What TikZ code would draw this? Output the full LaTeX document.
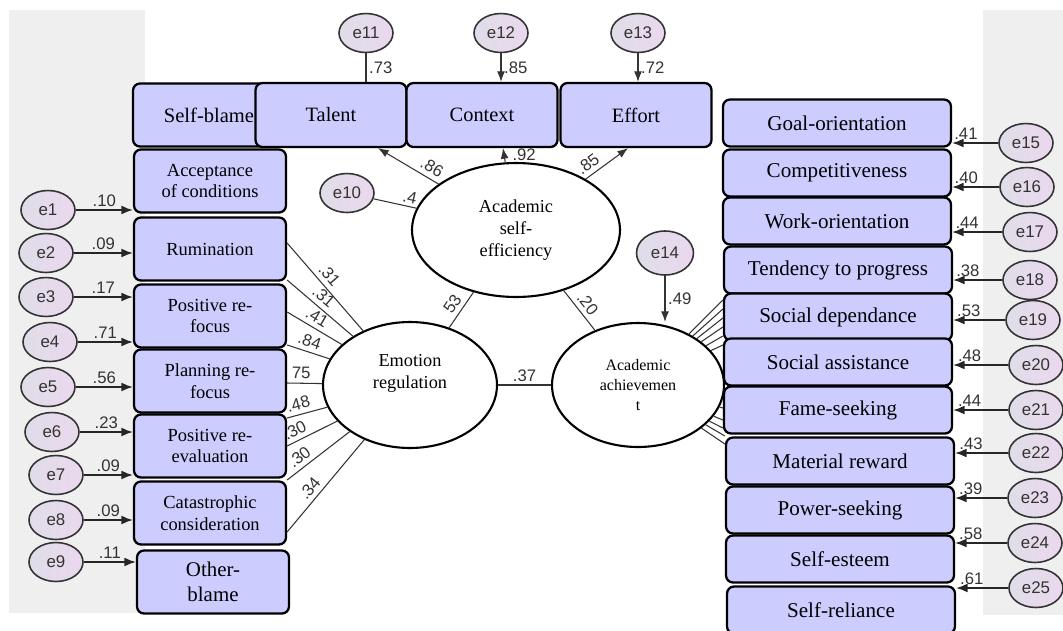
\documentclass[tikz,border=0pt]{standalone}
\usepackage{fontspec}
\setmainfont{Liberation Serif}
\newfontfamily\labelfont{Liberation Sans}
\usetikzlibrary{shapes.geometric, arrows.meta}
\definecolor{boxblue}{RGB}{204,204,255}
\definecolor{errleft}{RGB}{224,221,232}
\definecolor{errright}{RGB}{234,216,238}
\definecolor{panelgray}{RGB}{239,239,239}
\definecolor{linegray}{RGB}{51,51,51}

\begin{document}
\begin{tikzpicture}[x=0.02cm,y=-0.02cm]
	\tikzstyle{indicator} = [rectangle,rounded corners=4pt,draw=black,line width=1.3pt,fill=boxblue,inner sep=1pt,align=center]
	\tikzstyle{leftbox} = [indicator,minimum width=3.04cm,minimum height=1.26cm,font=\fontsize{10.5}{12.3}\selectfont]
	\tikzstyle{topbox} = [indicator,minimum width=3.02cm,minimum height=1.28cm,font=\fontsize{11.6}{13}\selectfont]
	\tikzstyle{rightbox} = [indicator,minimum width=4.56cm,minimum height=0.94cm,font=\fontsize{12}{13}\selectfont]
	\tikzstyle{latent} = [ellipse,draw=black,line width=1.2pt,fill=white,inner sep=0pt,align=center]
	\tikzstyle{error} = [ellipse,draw=linegray,line width=0.9pt,left color=errleft,right color=errright,minimum width=1.08cm,minimum height=0.78cm,inner sep=0pt,font=\labelfont\fontsize{9.6}{10}\selectfont,text=linegray]
	\tikzstyle{edge} = [-,draw=linegray,line width=0.6pt]
	\tikzstyle{arr} = [edge,-{Latex[length=6pt,width=4.5pt]}]
	\tikzstyle{errarr} = [-{Latex[length=6.5pt,width=5pt]},draw=black!85,line width=0.8pt]
	\tikzstyle{coef} = [font=\labelfont\fontsize{9.5}{10}\selectfont,text=linegray,inner sep=1.5pt]
	
	\useasboundingbox (0,0) rectangle (1063,630);
	\fill[panelgray] (9,10) rectangle (145,613);
	\fill[panelgray] (983,10) rectangle (1063,615);
	
	% emotion regulation indicators
	\node[leftbox,font=\fontsize{11.7}{13}\selectfont] (sb) at (209,115) {Self-blame};
	\node[leftbox] (acc) at (210,181) {Acceptance\\of conditions};
	\node[leftbox] (rum) at (210,249) {Rumination};
	\node[leftbox] (prf) at (210,316) {Positive re-\\focus};
	\node[leftbox] (prp) at (210,381) {Planning re-\\focus};
	\node[leftbox] (pre) at (210,446) {Positive re-\\evaluation};
	\node[leftbox] (cat) at (210,513) {Catastrophic\\consideration};
	\node[leftbox,font=\fontsize{11.9}{14}\selectfont] (ob) at (213,582) {Other-\\blame};
	
	% self-efficiency indicators
	\node[topbox] (talent) at (331,115) {Talent};
	\node[topbox] (context) at (482,115) {Context};
	\node[topbox] (effort) at (636,115) {Effort};
	
	% achievement indicators
	\node[rightbox] (goal) at (837,123) {Goal-orientation};
	\node[rightbox] (comp) at (837,173) {Competitiveness};
	\node[rightbox] (work) at (837,221) {Work-orientation};
	\node[rightbox] (tend) at (838,270) {Tendency to progress};
	\node[rightbox] (sdep) at (838,317) {Social dependance};
	\node[rightbox] (sass) at (838,362) {Social assistance};
	\node[rightbox] (fame) at (838,410) {Fame-seeking};
	\node[rightbox] (mat) at (840,461) {Material reward};
	\node[rightbox] (pow) at (840,510) {Power-seeking};
	\node[rightbox] (ses) at (840,559) {Self-esteem};
	\node[rightbox] (srel) at (841,610) {Self-reliance};
	
	% latent variables
	\node[latent,minimum width=3.48cm,minimum height=2.52cm,font=\fontsize{10.4}{12.5}\selectfont] (er) at (410,385) {Emotion\\regulation\\[3pt]};
	\node[latent,minimum width=4.16cm,minimum height=2.68cm,font=\fontsize{10.4}{12.5}\selectfont] (ase) at (516,230) {Academic\\self-\\efficiency};
	\node[latent,minimum width=3.44cm,minimum height=2.48cm,font=\fontsize{9.1}{11.3}\selectfont] (aa) at (638,385) {Academic\\achievemen\\t};
	
	% error terms
	\node[error] (e1) at (48,210) {e1};
	\node[error] (e2) at (46,253) {e2};
	\node[error] (e3) at (46,297) {e3};
	\node[error] (e4) at (50,342) {e4};
	\node[error] (e5) at (48,387) {e5};
	\node[error] (e6) at (52,432) {e6};
	\node[error] (e7) at (56,475) {e7};
	\node[error] (e8) at (56,520) {e8};
	\node[error] (e9) at (56,562) {e9};
	\node[error] (e10) at (347,193) {e10};
	\node[error] (e11) at (366,33) {e11};
	\node[error] (e12) at (501,33) {e12};
	\node[error] (e13) at (638,33) {e13};
	\node[error,minimum width=1.14cm,minimum height=0.88cm] (e14) at (665,253) {e14};
	\node[error] (e15) at (1026,143) {e15};
	\node[error] (e16) at (1027,187) {e16};
	\node[error] (e17) at (1030,232) {e17};
	\node[error] (e18) at (1030,280) {e18};
	\node[error] (e19) at (1033,320) {e19};
	\node[error] (e20) at (1036,365) {e20};
	\node[error] (e21) at (1036,410) {e21};
	\node[error] (e22) at (1036,453) {e22};
	\node[error] (e23) at (1035,498) {e23};
	\node[error] (e24) at (1035,543) {e24};
	\node[error] (e25) at (1036,588) {e25};
	
	\draw[errarr] (e1) -- node[coef,above]{.10} (e1 -| acc.west);
	\draw[errarr] (e2) -- node[coef,above]{.09} (e2 -| rum.west);
	\draw[errarr] (e3) -- node[coef,above]{.17} (e3 -| prf.west);
	\draw[errarr] (e4) -- node[coef,above]{.71} (e4 -| prf.west);
	\draw[errarr] (e5) -- node[coef,above]{.56} (e5 -| prp.west);
	\draw[errarr] (e6) -- node[coef,above]{.23} (e6 -| pre.west);
	\draw[errarr] (e7) -- node[coef,above]{.09} (e7 -| pre.west);
	\draw[errarr] (e8) -- node[coef,above]{.09} (e8 -| cat.west);
	\draw[errarr] (e9) -- node[coef,above]{.11} (e9 -| ob.west);
	
	\draw[edge] ([yshift=0.12cm]rum.east) -- node[coef,sloped,above=1pt,pos=.45]{.31} (er);
	\draw[edge] ([yshift=-0.62cm]rum.east) -- node[coef,sloped,above=1pt,pos=.45]{.31} (er);
	\draw[edge] ([yshift=0.08cm]prf.east) -- node[coef,sloped,above=1pt,pos=.45]{.41} (er);
	\draw[edge] ([yshift=-0.58cm]prf.east) -- node[coef,sloped,above=1pt,pos=.45]{.84} (er);
	\draw[edge] ([yshift=-0.04cm]prp.east) -- node[coef,sloped,above=1pt,pos=.4]{75} (er);
	\draw[edge] ([yshift=0.56cm]pre.east) -- node[coef,sloped,above=1pt,pos=.35]{.48} (er);
	\draw[edge] (pre.east) -- node[coef,sloped,above=1pt,pos=.25]{.30} (er);
	\draw[edge] ([yshift=-0.68cm]pre.east) -- node[coef,sloped,above=1pt,pos=.3]{.30} (er);
	\draw[edge] ([yshift=-0.38cm]cat.east) -- node[coef,sloped,above=1pt,pos=.4]{.34} (er);
	
	\draw[edge] (e10) -- node[coef,sloped,above,pos=.8]{.4} (ase);
	\draw[edge] (e11) -- node[coef,right]{.73} (e11 |- talent.north);
	\draw[arr] (e12) -- node[coef,right]{.85} (e12 |- context.north);
	\draw[arr] (e13) -- node[coef,right]{.72} (e13 |- effort.north);
	\draw[arr] (ase) -- node[coef,sloped,above=1pt,pos=.2]{.86} ([xshift=0.94cm]talent.south);
	\draw[arr] (ase) -- node[coef,right=3pt]{.92} ([xshift=0.42cm]context.south);
	\draw[arr] (ase) -- node[coef,sloped,above=1pt,pos=.2]{.85} ([xshift=-0.16cm]effort.south);
	
	\draw[edge] (er) -- node[coef,sloped,above=1pt]{53} (ase);
	\draw[edge] (ase) -- node[coef,sloped,above=1pt]{.20} (aa);
	\draw[edge] (er) -- node[coef,above]{.37} (aa);
	\draw[arr] (e14) -- node[coef,right]{.49} (e14 |- aa.north);
	
	\draw[edge] (aa) -- ([yshift=0.34cm]sdep.west);
	\draw[edge] (aa) -- ([yshift=0.16cm]sdep.west);
	\draw[edge] (aa) -- ([yshift=-0.02cm]sdep.west);
	\draw[edge] (aa) -- ([yshift=-0.2cm]sdep.west);
	\draw[edge] (aa) -- ([yshift=-0.38cm]sdep.west);
	\draw[edge] (aa) -- ([yshift=0.34cm]sass.west);
	\draw[edge] (aa) -- ([yshift=0.04cm]fame.west);
	\draw[edge] (aa) -- ([yshift=-0.2cm]fame.west);
	\draw[edge] (aa) -- ([yshift=-0.36cm]fame.west);
	\draw[edge] (aa) -- ([yshift=0.5cm]mat.west);
	\draw[edge] (aa) -- ([yshift=0.34cm]mat.west);
	
	\draw[errarr] (e15) -- node[coef,above,pos=.7]{.41} (e15 -| goal.east);
	\draw[errarr] (e16) -- node[coef,above,pos=.7]{.40} (e16 -| comp.east);
	\draw[errarr] (e17) -- node[coef,above,pos=.7]{.44} (e17 -| work.east);
	\draw[errarr] (e18) -- node[coef,above,pos=.7]{.38} (e18 -| tend.east);
	\draw[errarr] (e19) -- node[coef,above,pos=.7]{.53} (e19 -| sdep.east);
	\draw[errarr] (e20) -- node[coef,above,pos=.7]{.48} (e20 -| sass.east);
	\draw[errarr] (e21) -- node[coef,above,pos=.7]{.44} (e21 -| fame.east);
	\draw[errarr] (e22) -- node[coef,above,pos=.7]{.43} (e22 -| mat.east);
	\draw[errarr] (e23) -- node[coef,above,pos=.7]{.39} (e23 -| pow.east);
	\draw[errarr] (e24) -- node[coef,above,pos=.7]{.58} (e24 -| ses.east);
	\draw[errarr] (e25) -- node[coef,above,pos=.7]{.61} (e25 -| srel.east);
	
\end{tikzpicture}
\end{document}
